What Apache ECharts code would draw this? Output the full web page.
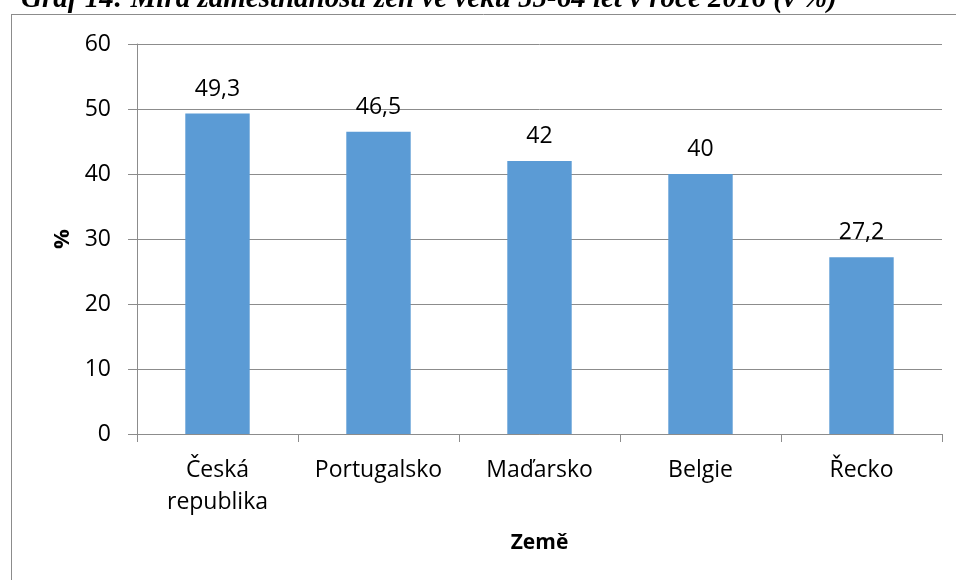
<!DOCTYPE html>
<html>
<head>
<meta charset="utf-8">
<script src="https://cdn.jsdelivr.net/npm/echarts@6/dist/echarts.min.js"></script>
<style>
  html, body { margin: 0; padding: 0; background: #fff; }
  #chart { width: 956px; height: 580px; }
</style>
</head>
<body>
<div id="chart"></div>
<script>
// kategorie a hodnoty
var countries = ['Česká\nrepublika', 'Portugalsko', 'Maďarsko', 'Belgie', 'Řecko'];
var values = [49.3, 46.5, 42, 40, 27.2];
var yTicks = { min: 0, max: 60, interval: 10 };

var chart = echarts.init(document.getElementById('chart'));
var font = '"Open Sans", "Noto Sans", sans-serif';

var option = {
  animation: false,
  backgroundColor: '#fff',
  graphic: [
    {
      type: 'text',
      left: 21, top: -15,
      style: {
        text: 'Graf 14: Míra zaměstnanosti žen ve věku 55-64 let v roce 2016 (v %)',
        font: 'italic bold 29px "Liberation Serif", "DejaVu Serif", serif',
        fill: '#000'
      }
    },
    // rámeček grafu
    { type: 'line', shape: { x1: 11, y1: 14.5, x2: 956, y2: 14.5 }, style: { stroke: '#8c8c8c', lineWidth: 1 } },
    { type: 'line', shape: { x1: 11.5, y1: 14, x2: 11.5, y2: 580 }, style: { stroke: '#8c8c8c', lineWidth: 1 } }
  ],
  grid: { left: 137, right: 14, top: 44, bottom: 146 },
  xAxis: {
    type: 'category',
    data: countries,
    name: 'Země',
    nameLocation: 'middle',
    nameGap: 99,
    nameTextStyle: { fontFamily: font, fontSize: 21, fontWeight: 'bold', color: '#000' },
    axisLine: { lineStyle: { color: '#8c8c8c' } },
    axisTick: { show: true, length: 8, lineStyle: { color: '#8c8c8c' }, alignWithLabel: false },
    axisLabel: { interval: 0, hideOverlap: false, fontFamily: font, fontSize: 23, color: '#000', margin: 20, lineHeight: 32 }
  },
  yAxis: {
    type: 'value',
    min: yTicks.min, max: yTicks.max, interval: yTicks.interval,
    name: '%',
    nameLocation: 'middle',
    nameGap: 62,
    nameRotate: 90,
    nameTextStyle: { fontFamily: font, fontSize: 22, fontWeight: 'bold', color: '#000' },
    axisLine: { show: true, lineStyle: { color: '#8c8c8c' } },
    axisTick: { show: true, inside: false, length: 9, lineStyle: { color: '#8c8c8c' } },
    axisLabel: { fontFamily: font, fontSize: 23, color: '#000', margin: 26 },
    splitLine: { lineStyle: { color: '#8c8c8c' } }
  },
  series: [{
    type: 'bar',
    data: values,
    barWidth: '40%',
    itemStyle: { color: '#5B9BD5' },
    label: {
      show: true,
      position: 'top',
      distance: 13,
      fontFamily: font,
      fontSize: 23,
      color: '#000',
      formatter: function (p) { return String(p.value).replace('.', ','); }
    }
  }]
};

chart.setOption(option);
</script>
</body>
</html>
